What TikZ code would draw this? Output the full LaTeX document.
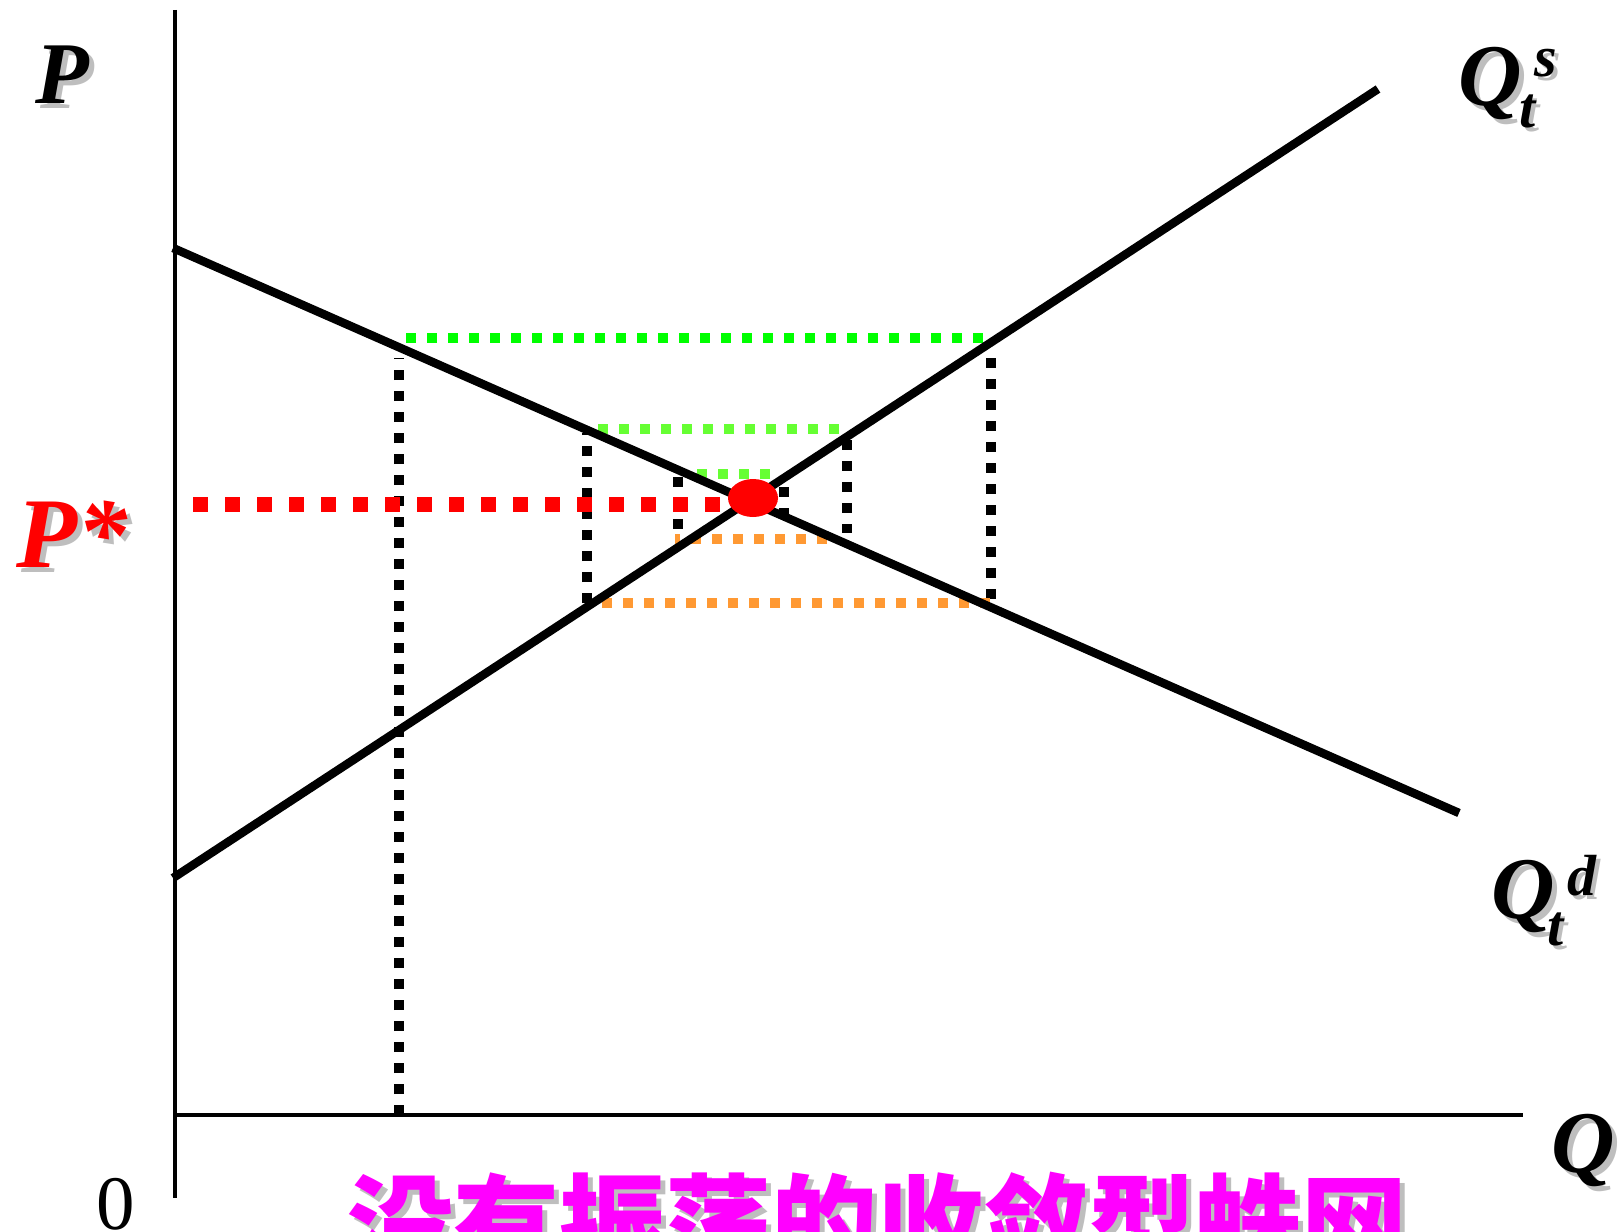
\documentclass[tikz,border=0pt]{standalone}
\usepackage{fontspec}
\setmainfont{Liberation Serif}
\newfontfamily\cjk{Noto Sans CJK SC}
\definecolor{grn}{RGB}{0,255,0}
\definecolor{lgrn}{RGB}{102,255,51}
\definecolor{org}{RGB}{255,153,51}
\definecolor{shd}{RGB}{190,190,190}
\definecolor{mag}{RGB}{255,0,255}
\definecolor{rd}{RGB}{255,0,0}
\begin{document}
\begin{tikzpicture}[x=1pt,y=-1pt,
  dotline/.style={line width=10pt,dash pattern=on 10pt off 11pt},
  reddash/.style={line width=15pt,dash pattern=on 15pt off 17pt,rd},
  curveline/.style={line width=8.5pt},
  axisline/.style={line width=4.5pt},
  lab/.style={inner sep=0pt,font=\fontsize{88}{88}\selectfont\bfseries\itshape},
  sublab/.style={inner sep=0pt,font=\fontsize{58}{58}\selectfont\bfseries\itshape},
  shadow/.style={text=shd}]
\useasboundingbox (0,0) rectangle (1619,1231);
\clip (0,0) rectangle (1619,1231);
% coordinates
\coordinate (Dtop) at (173,248);
\coordinate (Dbot) at (1459,813);
\coordinate (Sbot) at (173,878);
\coordinate (Stop) at (1378,89);
% cobweb dotted lines
\draw[dotline] (399,1115) -- (399,358);
\draw[dotline,grn] (406,338) -- (987,338);
\draw[dotline] (991,358) -- (991,600);
\draw[dotline,org] (990,603) -- (597,603);
\draw[dotline] (587,603) -- (587,433);
\draw[dotline,lgrn] (598,429) -- (843,429);
\draw[dotline] (847,440) -- (847,533);
\draw[dotline,org] (827,539) -- (675,539);
\draw[dotline] (678,477) -- (678,530);
\draw[dotline,lgrn] (697,474) -- (780,474);
\draw[dotline] (784,487) -- (784,515);
\draw[reddash] (193,504) -- (723,504);
% axes
\draw[axisline] (175,10) -- (175,1198);
\draw[axisline] (173,1115) -- (1523,1115);
% curves
\draw[curveline] (Dtop) -- (Dbot);
\draw[curveline] (Sbot) -- (Stop);
% equilibrium
\fill[rd] (753,498) ellipse [x radius=25, y radius=19];
% labels with shadows
\node[lab,shadow,anchor=base] at (67,108) {P};
\node[lab,anchor=base] (P) at (62,103) {P};
\node[lab,shadow,anchor=base,font=\fontsize{100}{100}\selectfont\bfseries\itshape] at (77,572) {P*};
\node[lab,anchor=base,text=rd,font=\fontsize{100}{100}\selectfont\bfseries\itshape] (Pstar) at (72,567) {P*};
\node[lab,shadow,anchor=base] at (1495,110) {Q};
\node[lab,anchor=base] (Qs) at (1490,105) {Q};
\node[sublab,shadow,anchor=base] at (1532,131) {t};
\node[sublab,anchor=base] (ts) at (1528,127) {t};
\node[sublab,shadow,anchor=base] at (1550,81) {s};
\node[sublab,anchor=base] (ss) at (1546,77) {s};
\node[lab,shadow,anchor=base] at (1528,923) {Q};
\node[lab,anchor=base] (Qd) at (1523,918) {Q};
\node[sublab,shadow,anchor=base] at (1560,949) {t};
\node[sublab,anchor=base] (td) at (1556,945) {t};
\node[sublab,shadow,anchor=base] at (1586,899) {d};
\node[sublab,anchor=base] (dd) at (1582,895) {d};
\node[lab,shadow,anchor=base] at (1588,1177) {Q};
\node[lab,anchor=base] (Qax) at (1583,1172) {Q};
\node[inner sep=0pt,anchor=base,font=\fontsize{77}{77}\selectfont] (zero) at (116,1229) {0};
\node[inner sep=0pt,anchor=base,text=shd,font=\fontsize{106}{106}\selectfont\cjk\bfseries] at (882,1268) {没有振荡的收敛型蛛网};
\node[inner sep=0pt,anchor=base,text=mag,font=\fontsize{106}{106}\selectfont\cjk\bfseries] (title) at (877,1263) {没有振荡的收敛型蛛网};
\end{tikzpicture}
\end{document}
